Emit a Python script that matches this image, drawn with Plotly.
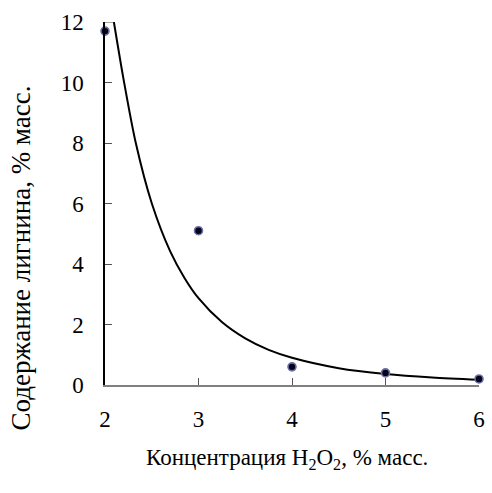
import plotly.graph_objects as go

# measured points
conc = [2, 3, 4, 5, 6]
lignin = [11.7, 5.1, 0.6, 0.4, 0.2]

# fitted trend curve
curve_x = [2.095, 2.2, 2.33, 2.5, 2.7, 2.85, 3.0, 3.25, 3.5, 3.75, 4.0, 4.5, 5.0, 5.5, 6.0]
curve_y = [12.0, 10.08, 7.99, 6.01, 4.40, 3.54, 2.87, 2.08, 1.54, 1.16, 0.90, 0.556, 0.363, 0.247, 0.173]

# short clipped piece of the curve along the top edge
clip_x = [2.0, 2.095]
clip_y = [12, 12]

x_ticks = [2, 3, 4, 5, 6]
y_ticks = [0, 2, 4, 6, 8, 10, 12]

x_title = "Концентрация H<sub>2</sub>O<sub>2</sub>, % масс."
y_title = "Содержание лигнина, % масс."

font_family = "Liberation Serif"

fig = go.Figure()
fig.add_trace(go.Scatter(
    x=clip_x, y=clip_y, mode="lines",
    line=dict(color="#888888", width=1.5),
    hoverinfo="skip", cliponaxis=False,
))
fig.add_trace(go.Scatter(
    x=curve_x, y=curve_y, mode="lines",
    line=dict(color="black", width=2, shape="spline", smoothing=0.8),
    hoverinfo="skip",
))
fig.add_trace(go.Scatter(
    x=conc, y=lignin, mode="markers",
    marker=dict(size=8, color="#05051a", line=dict(color="#6e6eaa", width=1.6)),
    cliponaxis=False,
))

fig.update_layout(
    width=492, height=493,
    margin=dict(l=105, r=7, t=22, b=108),
    paper_bgcolor="white", plot_bgcolor="white",
    showlegend=False,
    font=dict(family=font_family, size=23, color="black"),
    annotations=[
        dict(text=y_title, textangle=-90, xref="paper", yref="paper",
             x=-0.226, y=0.35, xanchor="center", yanchor="middle",
             showarrow=False, font=dict(family=font_family, size=27)),
        dict(text=x_title, xref="paper", yref="paper",
             x=0.487, y=-0.203, xanchor="center", yanchor="middle",
             showarrow=False, font=dict(family=font_family, size=23)),
    ],
)
fig.update_xaxes(
    range=[2, 6], tickvals=x_ticks, ticktext=[str(v) for v in x_ticks],
    showgrid=False, zeroline=False,
    showline=True, linecolor="#808080", linewidth=2,
    ticks="inside", ticklen=7, tickcolor="#555555", tickwidth=1,
    ticklabelstandoff=12,
    tickfont=dict(family=font_family, size=23),
)
fig.update_yaxes(
    range=[0, 12], tickvals=y_ticks, ticktext=[str(v) for v in y_ticks],
    showgrid=False, zeroline=False,
    showline=True, linecolor="black", linewidth=1.5,
    ticks="inside", ticklen=7, tickcolor="#555555", tickwidth=1,
    ticklabelstandoff=15,
    tickfont=dict(family=font_family, size=23),
)

fig.write_html("out.html")
